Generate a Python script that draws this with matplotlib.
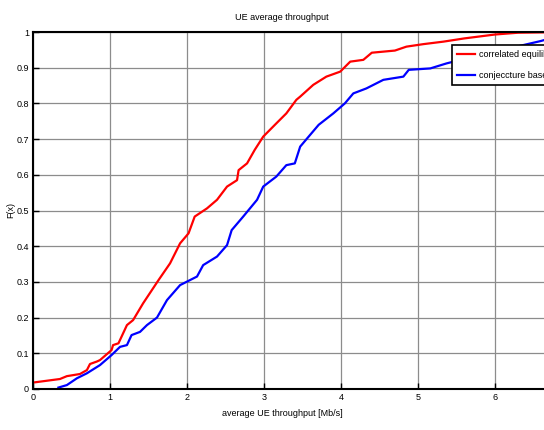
import numpy as np
import matplotlib
matplotlib.use("Agg")
from matplotlib import pyplot as plt

# CDF of UE average throughput
ce_x = [0.0, 0.35, 0.44, 0.61, 0.70, 0.74, 0.83, 0.87, 1.02, 1.04, 1.11, 1.22, 1.30, 1.43,
        1.63, 1.78, 1.91, 2.02, 2.10, 2.26, 2.39, 2.52, 2.65, 2.67, 2.78, 2.88, 2.99,
        3.16, 3.29, 3.42, 3.47, 3.64, 3.81, 3.99, 4.12, 4.29, 4.40, 4.70, 4.85, 5.07,
        5.33, 5.60, 6.00, 6.30, 7.00]
ce_y = [0.018, 0.028, 0.036, 0.042, 0.053, 0.070, 0.077, 0.081, 0.109, 0.123, 0.128, 0.179,
        0.193, 0.240, 0.305, 0.352, 0.408, 0.436, 0.483, 0.506, 0.530, 0.567, 0.585,
        0.613, 0.632, 0.670, 0.707, 0.744, 0.772, 0.810, 0.819, 0.852, 0.875, 0.889,
        0.917, 0.922, 0.942, 0.948, 0.959, 0.966, 0.973, 0.982, 0.993, 0.998, 1.0]

cq_x = [0.33, 0.44, 0.57, 0.70, 0.87, 1.02, 1.13, 1.22, 1.28, 1.39, 1.48, 1.61, 1.74,
        1.91, 2.13, 2.21, 2.39, 2.52, 2.58, 2.73, 2.91, 2.99, 3.16, 3.29, 3.40, 3.47,
        3.58, 3.71, 3.90, 4.05, 4.16, 4.33, 4.55, 4.81, 4.88, 5.16, 5.37, 5.70, 6.20,
        6.60, 7.00]
cq_y = [0.004, 0.011, 0.030, 0.044, 0.067, 0.095, 0.118, 0.123, 0.151, 0.160, 0.179, 0.200,
        0.249, 0.291, 0.315, 0.347, 0.371, 0.403, 0.445, 0.483, 0.530, 0.567, 0.595,
        0.627, 0.632, 0.679, 0.707, 0.740, 0.772, 0.800, 0.828, 0.842, 0.866, 0.875,
        0.894, 0.898, 0.912, 0.930, 0.955, 0.975, 1.0]

labels = ["correlated equilibrium", "conjeccture based Q learning"]

plt.rcParams['font.family'] = ['Liberation Sans', 'DejaVu Sans']
plt.rcParams['font.size'] = 6.5

fig = plt.figure(figsize=(5.44, 4.30), dpi=100)
W, H = 544.0, 430.0
# axes runs past the right edge (picture is cropped there)
ax = fig.add_axes([33 / W, 41 / H, (7 * 77) / W, 357 / H])

ax.plot(ce_x, ce_y, color="#ff0000", lw=1.6, label=labels[0])
ax.plot(cq_x, cq_y, color="#0000ff", lw=1.6, label=labels[1])

ax.set_xlim(0, 7)
ax.set_ylim(0, 1)
ax.set_xticks(np.arange(0, 8, 1))
ax.set_yticks(np.arange(0, 1.01, 0.1))
ax.set_yticklabels(["0", "0.1", "0.2", "0.3", "0.4", "0.5", "0.6", "0.7", "0.8", "0.9", "1"])
ax.grid(True, color="#8c8c8c", lw=0.9)
ax.tick_params(direction="in", length=4, width=1, pad=3, labelsize=6.5)
for s in ax.spines.values():
    s.set_linewidth(1.5)

fig.text(282 / W, 1 - 17 / H, "UE average throughput", ha="center", va="center")
fig.text(282 / W, 1 - 413 / H, "average UE throughput [Mb/s]", ha="center", va="center")
fig.text(11 / W, 1 - 210 / H, "F(x)", ha="center", va="center", rotation=90)

leg = ax.legend(loc="upper left", bbox_to_anchor=(447 / W, 1 - 40 / H),
                bbox_transform=fig.transFigure, fancybox=False, framealpha=1,
                edgecolor="black", handlelength=2.0, borderpad=0.6, labelspacing=1.3,
                handletextpad=0.4)
leg.get_frame().set_linewidth(1.2)

fig.savefig("out.png", dpi=100)
